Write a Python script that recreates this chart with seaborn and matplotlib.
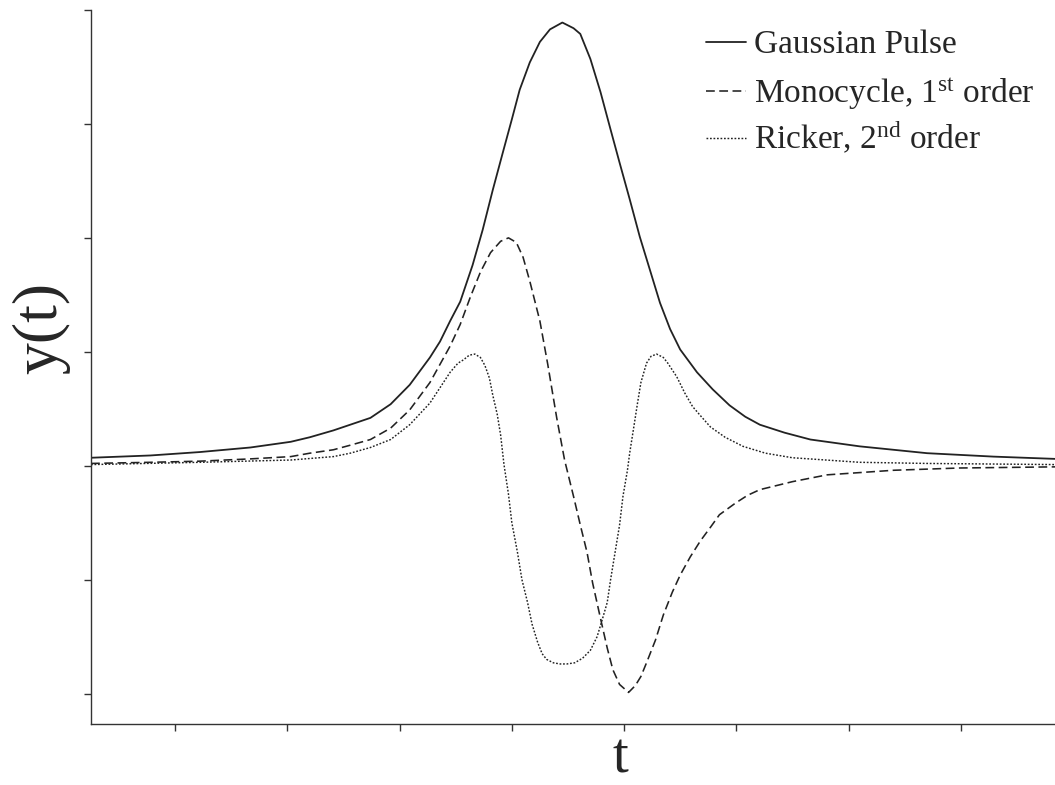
import numpy as np
import pandas as pd
import matplotlib
matplotlib.use("Agg")
import matplotlib.pyplot as plt
import seaborn as sns

# values (t and y both in tick units)
gauss_t = [-4.75, -4.22, -3.78, -3.33, -2.97, -2.80, -2.59, -2.44, -2.26, -2.08,
           -1.91, -1.73, -1.64, -1.55, -1.46, -1.35, -1.26, -1.17, -1.08, -1.00,
           -0.93, -0.84, -0.75, -0.66, -0.55, -0.45, -0.39, -0.30, -0.21, -0.12,
           -0.04, 0.05, 0.14, 0.23, 0.32, 0.41, 0.50, 0.65, 0.79, 0.94,
           1.08, 1.21, 1.43, 1.66, 2.10, 2.70, 3.29, 3.84]
gauss_y = [0.07, 0.09, 0.12, 0.16, 0.21, 0.25, 0.31, 0.36, 0.42, 0.54,
           0.71, 0.95, 1.09, 1.27, 1.44, 1.76, 2.07, 2.42, 2.75, 3.04,
           3.30, 3.54, 3.72, 3.83, 3.89, 3.84, 3.79, 3.57, 3.28, 2.95,
           2.66, 2.34, 2.01, 1.72, 1.43, 1.20, 1.02, 0.82, 0.67, 0.53,
           0.43, 0.36, 0.29, 0.23, 0.17, 0.11, 0.08, 0.06]

mono_t = [-4.75, -4.22, -3.78, -3.33, -2.97, -2.80, -2.59, -2.44, -2.26, -2.08,
          -1.91, -1.73, -1.55, -1.46, -1.37, -1.28, -1.19, -1.10, -1.03, -0.96,
          -0.90, -0.84, -0.75, -0.68, -0.60, -0.53, -0.45, -0.39, -0.33, -0.28,
          -0.21, -0.15, -0.10, -0.04, 0.04, 0.10, 0.15, 0.20, 0.28, 0.35,
          0.43, 0.50, 0.59, 0.68, 0.77, 0.85, 0.99, 1.10, 1.21, 1.50,
          1.81, 2.40, 2.99, 3.84]
mono_y = [0.02, 0.03, 0.04, 0.06, 0.08, 0.11, 0.14, 0.18, 0.23, 0.33,
          0.49, 0.73, 1.05, 1.24, 1.48, 1.70, 1.87, 1.97, 2.00, 1.96,
          1.83, 1.62, 1.27, 0.89, 0.42, 0.05, -0.27, -0.52, -0.76, -1.03,
          -1.34, -1.60, -1.79, -1.92, -1.99, -1.93, -1.85, -1.73, -1.53, -1.31,
          -1.11, -0.96, -0.80, -0.66, -0.54, -0.43, -0.33, -0.26, -0.21, -0.14,
          -0.08, -0.04, -0.02, -0.01]

ricker_t = [-4.75, -3.78, -2.97, -2.59, -2.44, -2.26, -2.08, -1.91, -1.73, -1.55,
            -1.48, -1.43, -1.38, -1.33, -1.28, -1.24, -1.20, -1.17, -1.13, -1.10,
            -1.07, -1.03, -1.00, -0.95, -0.91, -0.86, -0.82, -0.77, -0.73, -0.69,
            -0.63, -0.57, -0.51, -0.44, -0.37, -0.30, -0.24, -0.20, -0.15, -0.12,
            -0.08, -0.04, -0.01, 0.03, 0.05, 0.09, 0.12, 0.15, 0.20, 0.24,
            0.29, 0.35, 0.39, 0.47, 0.54, 0.61, 0.68, 0.77, 0.90, 1.06,
            1.26, 1.50, 2.10, 2.70, 3.84]
ricker_y = [0.01, 0.03, 0.05, 0.08, 0.11, 0.16, 0.23, 0.36, 0.55, 0.82,
            0.90, 0.93, 0.97, 0.98, 0.95, 0.88, 0.77, 0.62, 0.45, 0.27,
            0.01, -0.25, -0.50, -0.76, -1.00, -1.20, -1.39, -1.55, -1.65, -1.70,
            -1.73, -1.74, -1.74, -1.73, -1.69, -1.62, -1.50, -1.37, -1.20, -1.00,
            -0.76, -0.52, -0.27, -0.04, 0.11, 0.36, 0.55, 0.73, 0.90, 0.96,
            0.98, 0.95, 0.90, 0.78, 0.64, 0.52, 0.44, 0.34, 0.25, 0.17,
            0.11, 0.07, 0.03, 0.02, 0.01]

labels = ["Gaussian Pulse",
          r"Monocycle, 1$^{\mathrm{st}}$ order",
          r"Ricker, 2$^{\mathrm{nd}}$ order"]

x_ticks = [-4, -3, -2, -1, 0, 1, 2, 3]
y_ticks = [-2, -1, 0, 1, 2, 3, 4]

sns.set_style("ticks")
plt.rcParams["font.family"] = ["Liberation Serif", "DejaVu Serif"]
plt.rcParams["mathtext.fontset"] = "custom"
plt.rcParams["mathtext.rm"] = "Liberation Serif"
plt.rcParams["mathtext.it"] = "Liberation Serif:italic"

ink = "#222222"
fig = plt.figure(figsize=(10.55, 7.85), dpi=100)
ax = fig.add_axes([91 / 1055, 61 / 785, 1 - 91 / 1055, 714 / 785])

sns.lineplot(x=gauss_t, y=gauss_y, ax=ax, color=ink, lw=1.3,
             label=labels[0], sort=False)
sns.lineplot(x=mono_t, y=mono_y, ax=ax, color=ink, lw=1.15,
             linestyle=(0, (5.5, 2.8)), label=labels[1], sort=False)
sns.lineplot(x=ricker_t, y=ricker_y, ax=ax, color=ink, lw=1.05,
             linestyle=(0, (1.2, 1.2)), label=labels[2], sort=False)

ax.set_xlim(-4.75, 3.84)
ax.set_ylim(-2.267, 4.0)
ax.set_xticks(x_ticks)
ax.set_yticks(y_ticks)
ax.set_xticklabels([])
ax.set_yticklabels([])
ax.tick_params(direction="out", length=5, width=1.0, color="#333333")
sns.despine(ax=ax)
for side in ["left", "bottom"]:
    ax.spines[side].set_linewidth(1.0)
    ax.spines[side].set_color("#333333")

ax.set_xlabel("t", fontsize=41, va="baseline")
ax.xaxis.set_label_coords(0.549, -0.0686)
ax.set_ylabel("y(t)", fontsize=46)
ax.yaxis.set_label_coords(-0.022, 0.555)

# legend split in two so the rows get the reference's even spacing
handles, texts = ax.get_legend_handles_labels()
leg_kw = dict(loc="upper left", frameon=False, fontsize=24, handlelength=1.2,
              handletextpad=0.25, labelspacing=0.25, borderaxespad=0)
leg_top = ax.legend(handles[:1], texts[:1], bbox_to_anchor=(0.624, 0.991), **leg_kw)
ax.add_artist(leg_top)
ax.legend(handles[1:], texts[1:], bbox_to_anchor=(0.624, 0.9272), **leg_kw)

fig.savefig("out.png", dpi=100, facecolor="white")
